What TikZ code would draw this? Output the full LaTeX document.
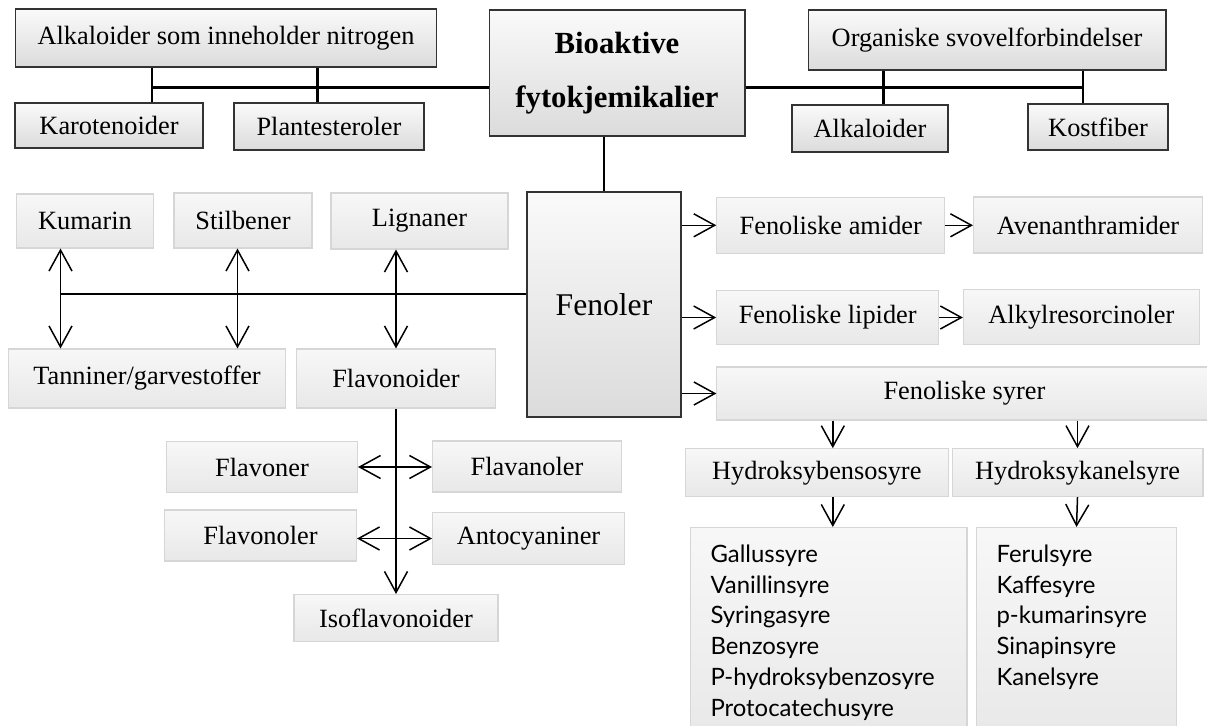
\documentclass[tikz,border=0pt]{standalone}
\usepackage{fontspec}
\setmainfont{Liberation Serif}
\newfontfamily\listfont{Lato}
\usetikzlibrary{arrows.meta}

\begin{document}
\begin{tikzpicture}[
    x=0.02cm,y=-0.02cm,
    darkbox/.style={draw=black!80,line width=.6pt,
        top color=black!2,bottom color=black!14,inner sep=0pt,
        font=\fontsize{15}{18}\selectfont},
    lightbox/.style={draw=black!16,line width=.6pt,
        top color=black!3,bottom color=black!9,inner sep=0pt,
        font=\fontsize{15}{18}\selectfont},
    listbox/.style={lightbox,anchor=north west,inner xsep=.4cm,inner ysep=.34cm,
        font={\listfont\fontsize{13.6}{17.6}\selectfont}},
    link/.style={line width=1.4pt},
    pointer/.style={-{Straight Barb[length=4.2mm,width=4.6mm]},line width=.85pt},
    twoway/.style={{Straight Barb[length=4.2mm,width=4.6mm]}-{Straight Barb[length=4.2mm,width=4.6mm]},
        line width=.85pt},
    ]
    \useasboundingbox (0,0) rectangle (1207,726);
    % Main box
    \node[darkbox,minimum width=5.12cm,minimum height=2.52cm,align=center,
          font=\bfseries\fontsize{17.5}{31}\selectfont] (bio) at (617,73)
          {Bioaktive\\fytokjemikalier};
    % Top groups
    \node[darkbox,minimum width=8.44cm,minimum height=1.16cm] (alkn) at (226,38)
          {Alkaloider som inneholder nitrogen};
    \node[darkbox,minimum width=3.76cm,minimum height=.90cm] (karo) at (109,125.5) {Karotenoider};
    \node[darkbox,minimum width=3.80cm,minimum height=.94cm] (plante) at (329,126.5) {Plantesteroler};
    \node[darkbox,minimum width=7.16cm,minimum height=1.20cm] (organ) at (987,40)
          {Organiske svovelforbindelser};
    \node[darkbox,minimum width=3.12cm,minimum height=.94cm] (alkal) at (870,128.5) {Alkaloider};
    \node[darkbox,minimum width=2.80cm,minimum height=.92cm] (kost) at (1098,127) {Kostfiber};
    % Fenoler
    \node[darkbox,minimum width=3.08cm,minimum height=4.50cm,
          font=\fontsize{18}{22}\selectfont] (fenoler) at (604,304.5) {Fenoler};
    % Left branch
    \node[lightbox,minimum width=2.74cm,minimum height=1.08cm] (kumarin) at (85,221) {Kumarin};
    \node[lightbox,minimum width=2.76cm,minimum height=1.10cm] (stilb) at (243,220.5) {Stilbener};
    \node[lightbox,minimum width=3.54cm,minimum height=1.12cm] (lign) at (419.5,221) {Lignaner};
    \node[lightbox,minimum width=5.54cm,minimum height=1.18cm] (tann) at (147,378.5)
          {Tanniner/garvestoffer};
    \node[lightbox,minimum width=3.98cm,minimum height=1.18cm] (flavd) at (396,378.5) {Flavonoider};
    \node[lightbox,minimum width=3.82cm,minimum height=1.02cm] (flavon) at (262,467) {Flavoner};
    \node[lightbox,minimum width=3.78cm,minimum height=1.02cm] (flavan) at (527,466.5) {Flavanoler};
    \node[lightbox,minimum width=3.84cm,minimum height=1.02cm] (flavonol) at (260.5,535.5) {Flavonoler};
    \node[lightbox,minimum width=3.84cm,minimum height=1.04cm] (antoc) at (528.5,538.5) {Antocyaniner};
    \node[lightbox,minimum width=4.08cm,minimum height=.94cm] (isofl) at (396,618) {Isoflavonoider};
    % Right branch
    \node[lightbox,minimum width=4.56cm,minimum height=1.12cm] (famid) at (830.8,225.3) {Fenoliske amider};
    \node[lightbox,minimum width=4.58cm,minimum height=1.12cm] (aven) at (1088,225) {Avenanthramider};
    \node[lightbox,minimum width=4.44cm,minimum height=1.08cm] (flip) at (827.7,317.5) {Fenoliske lipider};
    \node[lightbox,minimum width=4.72cm,minimum height=1.10cm] (alkyl) at (1081.4,316.8) {Alkylresorcinoler};
    \node[lightbox,minimum width=9.90cm,minimum height=1.06cm] (fsyr) at (964.4,393.5) {Fenoliske syrer};
    \node[lightbox,minimum width=5.25cm,minimum height=.96cm] (hbens) at (816.8,472.7) {Hydroksybensosyre};
    \node[lightbox,minimum width=5.02cm,minimum height=.96cm] (hkan) at (1077.5,472.7) {Hydroksykanelsyre};
    \node[listbox] (list1) at (690,527) {\parbox[b][3.6cm][t]{4.73cm}{Gallussyre\\Vanillinsyre\\
          Syringasyre\\Benzosyre\\P-hydroksybenzosyre\\Protocatechusyre}};
    \node[listbox] (list2) at (976,527) {\parbox[b][3.6cm][t]{3.2cm}{Ferulsyre\\Kaffesyre\\
          p-kumarinsyre\\Sinapinsyre\\Kanelsyre}};

    % Tie points
    \coordinate (kt) at ([xshift=.86cm]karo.north);
    \coordinate (pt) at ([xshift=-.23cm]plante.north);
    \coordinate (bl) at ([yshift=-.29cm]bio.west);
    \coordinate (br) at ([yshift=-.29cm]bio.east);
    \coordinate (alt) at ([xshift=.27cm]alkal.north);
    \coordinate (kst) at ([xshift=-.30cm]kost.north);
    \coordinate (hub) at ([yshift=.21cm]fenoler.west);
    \coordinate (ka) at ([xshift=-.49cm]kumarin.south);
    \coordinate (sa) at ([xshift=-.11cm]stilb.south);
    \coordinate (hb) at ([xshift=.32cm]hbens.north);

    % Top links
    \draw[link] (kt |- alkn.south) -- (kt);
    \draw[link] (pt |- alkn.south) -- (pt);
    \draw[link] (bl) -- (bl -| kt);
    \draw[link] (br) -- (br -| kst);
    \draw[link] (alt |- organ.south) -- (alt);
    \draw[link] (kst |- organ.south) -- (kst);
    \draw[link,line width=1.1pt] (bio.south -| fenoler.north) -- (fenoler.north);
    % Left links
    \draw[link,line width=1.3pt] (hub) -- (hub -| ka);
    \draw[twoway] (ka) -- (ka |- tann.north);
    \draw[twoway] (sa) -- (sa |- tann.north);
    \draw[twoway] (flavd.north |- lign.south) -- (flavd.north);
    \draw[pointer] (flavd.south) -- (isofl.north);
    \draw[twoway] (flavon.east) -- (flavon.east -| flavan.west);
    \draw[twoway] (antoc.west -| flavonol.east) -- (antoc.west);
    % Right links
    \draw[pointer] (fenoler.east |- famid.west) -- (famid.west);
    \draw[pointer] (fenoler.east |- flip.west) -- (flip.west);
    \draw[pointer] (fenoler.east |- fsyr.west) -- (fsyr.west);
    \draw[pointer] (famid.east) -- (famid.east -| aven.west);
    \draw[pointer] (flip.east) -- (flip.east -| alkyl.west);
    \draw[pointer] (hb |- fsyr.south) -- (hb);
    \draw[pointer] (hkan.north |- fsyr.south) -- (hkan.north);
    \draw[pointer] (hb |- hbens.south) -- (hb |- list1.north);
    \draw[pointer] (hkan.south) -- (list2.north);
\end{tikzpicture}
\end{document}
